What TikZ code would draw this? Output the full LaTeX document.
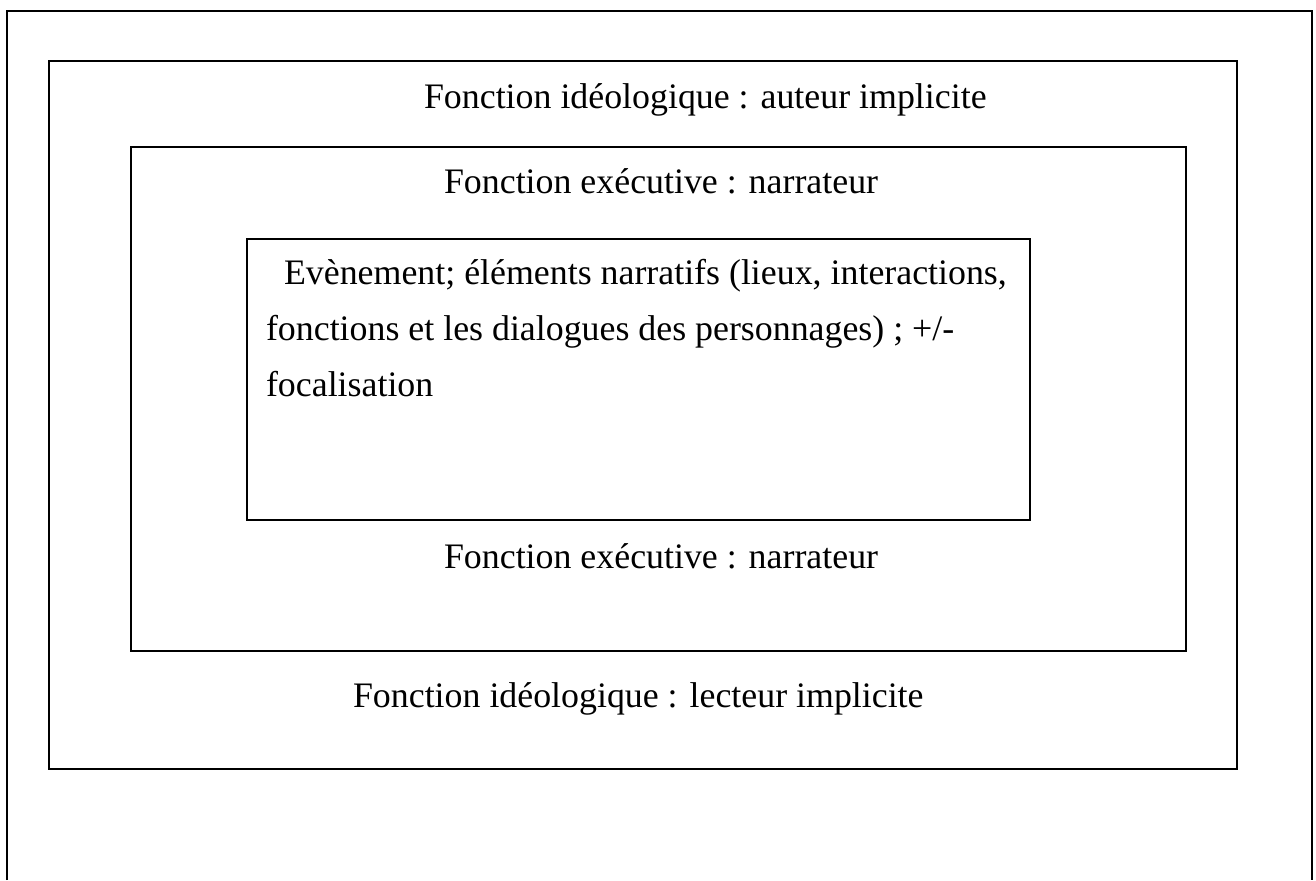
\documentclass[tikz,border=0pt]{standalone}
\usepackage{fontspec}
\setmainfont{Liberation Serif}
\begin{document}
\begin{tikzpicture}[line width=0.6pt,
  lbl/.style={anchor=base west,inner sep=0pt,font=\fontsize{10.2}{12}\selectfont}]
\useasboundingbox (0,0) rectangle (13.16,-8.8);
\draw (0.07,-8.8) -- (0.07,-0.11) -- (13.12,-0.11) -- (13.12,-8.8);
\draw (0.49,-0.61) rectangle (12.37,-7.69);
\draw (1.31,-1.47) rectangle (11.86,-6.51);
\draw (2.47,-2.39) rectangle (10.30,-5.20);
\node[lbl] (auteur) at (4.23,-1.08) {Fonction idéologique : auteur implicite};
\node[lbl] (narrHaut) at (4.43,-1.93) {Fonction exécutive : narrateur};
\node[lbl] (evtA) at (2.83,-2.84) {Evènement; éléments narratifs (lieux, interactions,};
\node[lbl] (evtB) at (2.65,-3.40) {fonctions et les dialogues des personnages) ; +/-};
\node[lbl] (evtC) at (2.65,-3.96) {focalisation};
\node[lbl] (narrBas) at (4.43,-5.68) {Fonction exécutive : narrateur};
\node[lbl] (lecteur) at (3.52,-7.07) {Fonction idéologique : lecteur implicite};
\end{tikzpicture}
\end{document}
